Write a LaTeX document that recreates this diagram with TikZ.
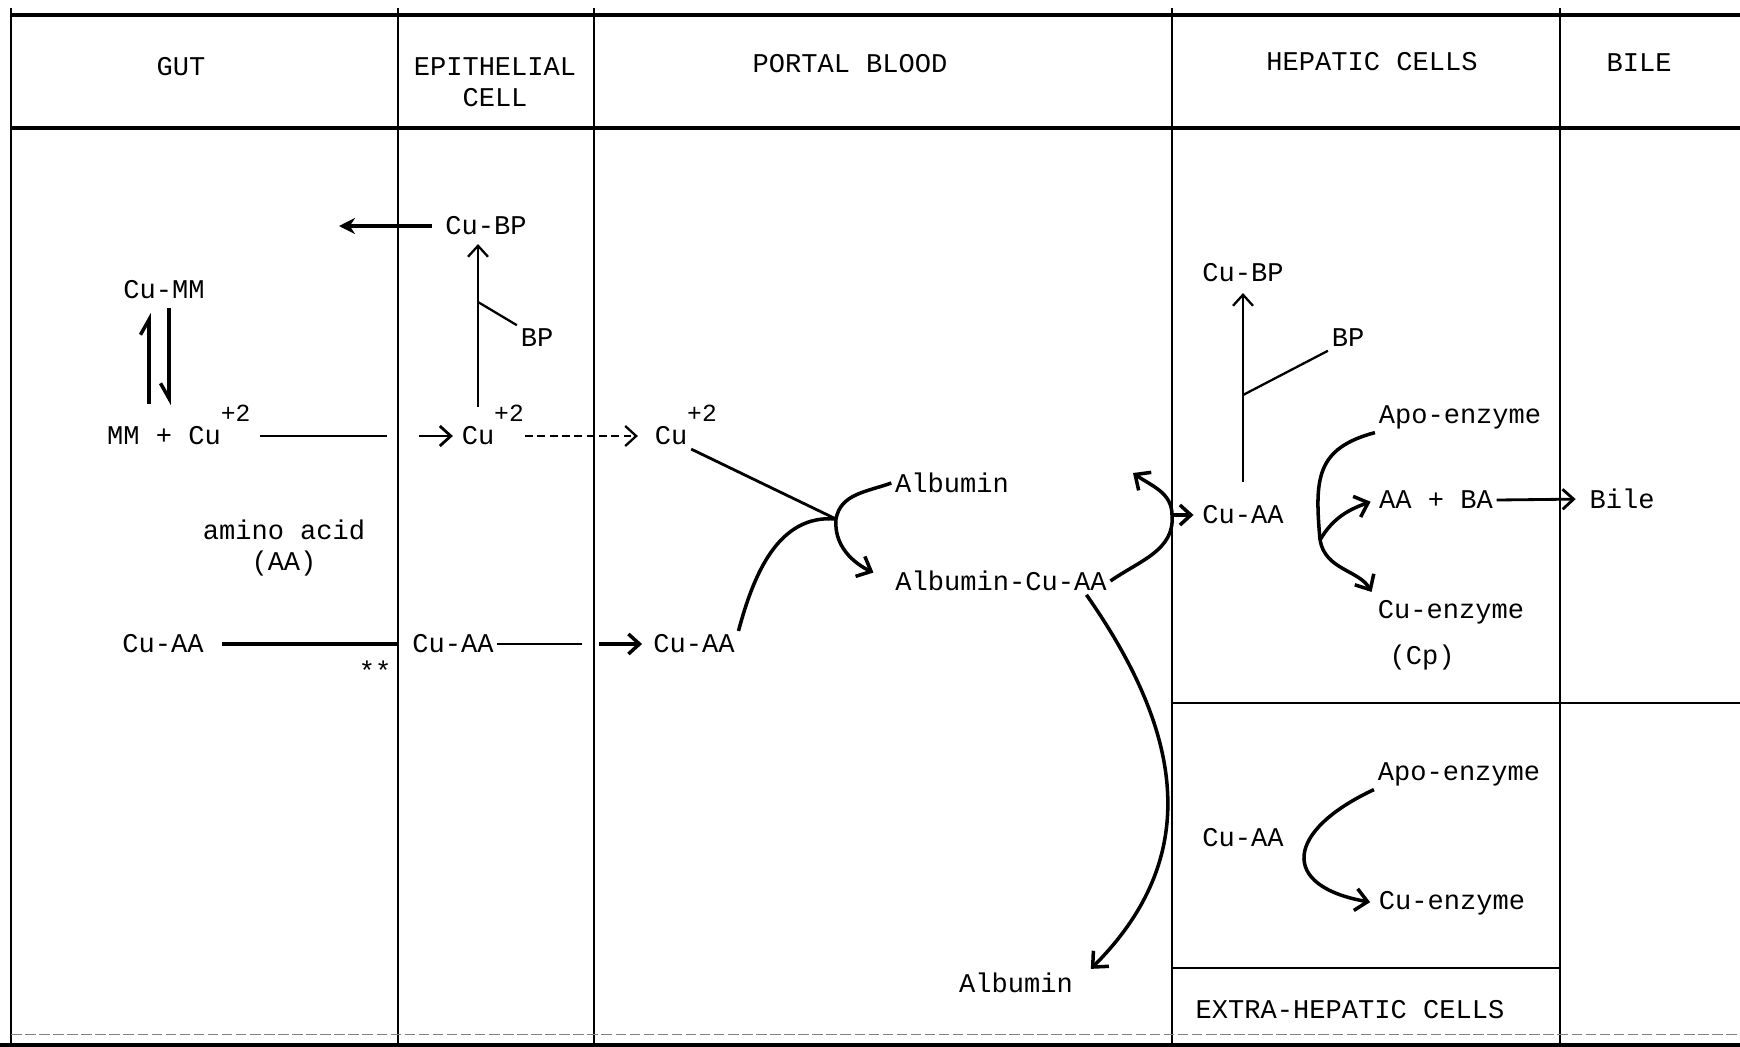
\documentclass[tikz,border=0pt]{standalone}
\usepackage{fontspec}
\setmainfont{Liberation Mono}
\usetikzlibrary{
	arrows.meta,
	calc,
	positioning
}
\tikzset{
	CU-Text/.style={font=\fontsize{15.4}{17.6}\selectfont,inner sep=2pt},
	CU-Wall/.style={line width=1.1pt},
	CU-Rule/.style={line width=2.4pt},
	CU-Link/.style={line width=1.3pt},
	CU-Curve/.style={line width=2pt},
	CU-Arrow/.style={-{Straight Barb[length=2.2mm,width=4mm]},line width=1.3pt},
	CU-Flow/.style={-{Straight Barb[length=2.4mm,width=4.4mm]},line width=2pt},
	CU-Solid/.style={-{Stealth[length=3.2mm,width=3.2mm]},line width=2pt},
	CU-Harpoon/.style={-{Straight Barb[harpoon,#1,length=3mm,width=3.4mm]},line width=2pt}
}
\newcommand\cuion{Cu\rlap{\smash{\raisebox{0.85em}{\fontsize{14}{14}\selectfont+2}}}}

\begin{document}
\begin{tikzpicture}[x=0.2mm,y=-0.2mm,every node/.append style={CU-Text}]
	\fill[white] (0,0) rectangle (1740,1046);
	\useasboundingbox (0,0) rectangle (1740,1046);
	% Walls between the compartments
	\foreach \n/\x in {L/11,A/398,B/594,C/1172,D/1560} {
		\coordinate (wall\n) at (\x,15);
		\draw[CU-Wall] (\x,8) -- (\x,1046);
	}
	\draw[CU-Rule] (11,15) -- (1740,15);
	\draw[CU-Rule] (11,128) -- (1740,128);
	\draw[CU-Rule,line width=1.6pt] (1172,703) -- (1740,703);
	\draw[CU-Wall] (1172,968) -- (1560,968);
	\draw[gray,line width=0.5pt,dash pattern=on 6pt off 2pt] (11,1034) -- (1740,1034);
	\draw[CU-Rule] (0,1045) -- (1740,1045);
	% Headings
	\node (hGut) at (181,67) {GUT};
	\node[align=center] (hEpi) at (495,82) {EPITHELIAL\\CELL};
	\node (hPortal) at (850,64) {PORTAL BLOOD};
	\node (hHep) at (1372,62) {HEPATIC CELLS};
	\node (hBile) at (1639,63) {BILE};
	\node (hExtra) at (1350,1010) {EXTRA-HEPATIC CELLS};
	% Gut
	\node (cuMM) at (164,290) {Cu-MM};
	\node (mmCu) at (164,436) {MM + \cuion};
	\node[align=center] (aaName) at (284,548) {amino acid\\(AA)};
	\node (cuAAgut) at (163,644) {Cu-AA};
	\node (stars) at (375,671) {**};
	% Epithelial cell
	\node (cuBPepi) at (486,226) {Cu-BP};
	\node (bpEpi) at (537,338) {BP};
	\node (cuEpi) at (478,436) {\cuion};
	\node (cuAAepi) at (453,644) {Cu-AA};
	% Portal blood
	\node (cuPortal) at (671,436) {\cuion};
	\node (cuAAportal) at (694,644) {Cu-AA};
	\node (albIn) at (952,483) {Albumin};
	\node (albCuAA) at (1001,581) {Albumin-Cu-AA};
	\node (albOut) at (1016,983) {Albumin};
	% Hepatic cells and bile
	\node (cuBPhep) at (1243,273) {Cu-BP};
	\node (bpHep) at (1348,338) {BP};
	\node (cuAAhep) at (1243,515) {Cu-AA};
	\node (apoHep) at (1460,417) {Apo-enzyme};
	\node (aaBA) at (1436,500) {AA + BA};
	\node (cuEnzHep) at (1451,612) {Cu-enzyme};
	\node (cp) at (1422,657) {(Cp)};
	\node (bile) at (1622,499) {Bile};
	% Extra-hepatic cells
	\node (apoExt) at (1459,774) {Apo-enzyme};
	\node (cuAAext) at (1243,838) {Cu-AA};
	\node (cuEnzExt) at (1452,903) {Cu-enzyme};

	% Cu-MM equilibrium
	\draw[CU-Harpoon=,shorten <=3.8mm,shorten >=2mm] ([xshift=-3mm]mmCu.north) -- ([xshift=-3mm]cuMM.south);
	\draw[CU-Harpoon=swap,shorten <=1mm,shorten >=3.6mm] ([xshift=1mm]cuMM.south) -- ([xshift=1mm]mmCu.north);
	% Cu-BP back to the gut
	\coordinate (gutOut) at (339,226);
	\draw[CU-Solid,shorten <=2mm] (cuBPepi.west) -- (gutOut);
	% Cu+2 through the epithelial cell
	\draw[CU-Link,line width=1.6pt,shorten <=7mm] (mmCu.east) -- ($(mmCu -| wallA)+(-11,0)$);
	\draw[CU-Arrow,line width=1.6pt,shorten >=1mm] ($(mmCu -| wallA)+(21,0)$) -- (cuEpi.west);
	\draw[CU-Arrow,dash pattern=on 4.5pt off 2.5pt,shorten <=5.4mm,shorten >=2.6mm] (cuEpi.east) -- (cuPortal.west);
	\draw[CU-Arrow,shorten <=3.2mm,shorten >=1mm] (cuEpi.north) -- (cuEpi.north |- cuBPepi.south);
	\coordinate (forkEpi) at (478,302);
	\draw[CU-Link] (forkEpi) -- (bpEpi.north west);
	% Cu-AA through the epithelial cell
	\draw[CU-Link,line width=2pt,shorten <=3mm] (cuAAgut.east) -- (cuAAgut -| wallA);
	\draw[CU-Link] (cuAAepi.east) -- ($(cuAAepi -| wallB)+(-12,0)$);
	\draw[CU-Arrow,line width=2pt,shorten >=1.5mm] ($(cuAAepi -| wallB)+(5,0)$) -- (cuAAportal.west);
	% Binding to albumin
	\coordinate (meet) at (836,519);
	\draw[CU-Link,line width=1.6pt] (cuPortal.south east) -- (meet);
	\draw[CU-Curve] (cuAAportal.north east) to[out=75,in=175] (meet);
	\draw[CU-Flow,shorten >=4mm] (albIn.west) to[out=200,in=80] (meet) to[out=-95,in=155] (albCuAA.west);
	% Uptake at the sinusoid
	\coordinate (sinus) at (cuAAhep -| wallC);
	\coordinate (backOut) at (1133,473);
	\draw[CU-Flow] (albCuAA.east) to[out=35,in=-85] (sinus) to[out=90,in=-35] (backOut);
	\draw[CU-Arrow,line width=2pt,shorten >=1mm] (sinus) -- (cuAAhep.west);
	\draw[CU-Flow,shorten >=4mm] ($(albCuAA.south east)+(-24,0)$) to[out=-55,in=45,looseness=1.15] (albOut.east);
	% Hepatic cells
	\draw[CU-Arrow,shorten <=4mm,shorten >=1.4mm] (cuAAhep.north) -- (cuAAhep.north |- cuBPhep.south);
	\coordinate (forkHep) at (1243,395);
	\draw[CU-Link] (forkHep) -- (bpHep.south west);
	\coordinate (split) at (1320,540);
	\draw[CU-Curve] (apoHep.south west) to[out=195,in=95,looseness=1.3] (split);
	\draw[CU-Flow,shorten >=1mm] (split) to[out=60,in=200] (aaBA.west);
	\draw[CU-Flow,shorten >=1mm] (split) to[out=-80,in=120] (cuEnzHep.north west);
	\draw[CU-Arrow,line width=1.6pt,shorten >=2mm] (aaBA.east) -- (bile.west);
	% Extra-hepatic cells
	\draw[CU-Flow,shorten >=1mm] (apoExt.south west) to[out=205,in=170,looseness=2.2] (cuEnzExt.west);
\end{tikzpicture}
\end{document}
